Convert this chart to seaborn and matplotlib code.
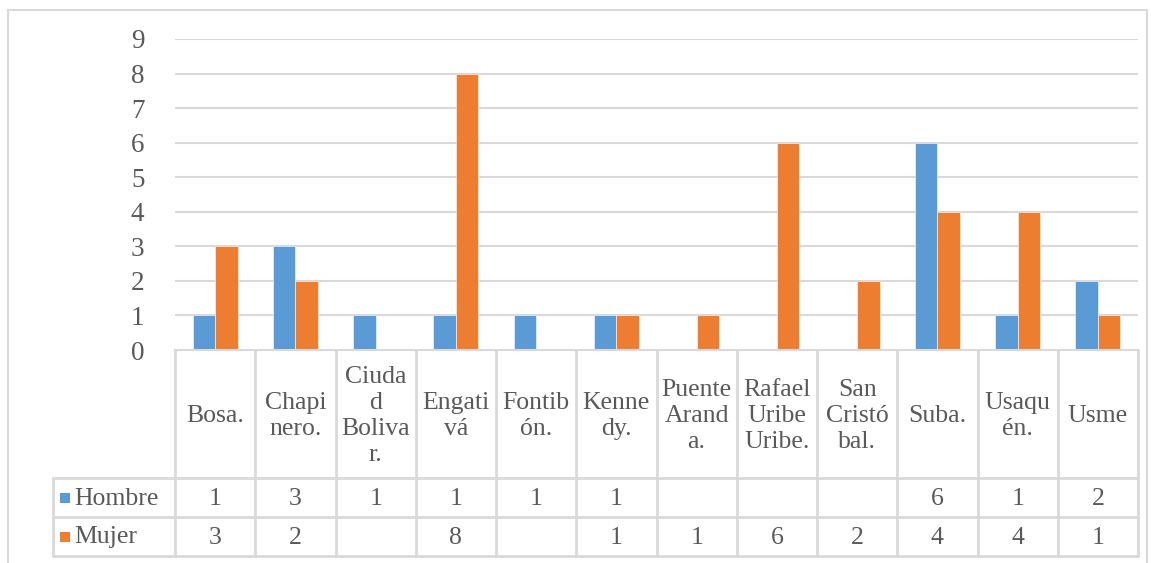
import numpy as np
import pandas as pd
import seaborn as sns
from matplotlib import pyplot as plt
from matplotlib.patches import Rectangle

sns.set_theme(style="white")
plt.rcParams['font.family'] = ['Liberation Serif', 'DejaVu Serif']

#################################################
#### data
#################################################
localidades = ["Bosa.", "Chapinero.", "Ciudad Bolivar.", "Engativá", "Fontibón.",
               "Kennedy.", "Puente Aranda.", "Rafael Uribe Uribe.", "San Cristóbal.",
               "Suba.", "Usaquén.", "Usme"]
# labels as they wrap inside the table header
etiquetas = ["Bosa.", "Chapi\nnero.", "Ciuda\nd\nBoliva\nr.", "Engati\nvá", "Fontib\nón.",
             "Kenne\ndy.", "Puente\nArand\na.", "Rafael\nUribe\nUribe.", "San\nCristó\nbal.",
             "Suba.", "Usaqu\nén.", "Usme"]
hombre = [1, 3, 1, 1, 1, 1, None, None, None, 6, 1, 2]
mujer = [3, 2, None, 8, None, 1, 1, 6, 2, 4, 4, 1]
series = ["Hombre", "Mujer"]
colores = ["#5B9BD5", "#ED7D31"]
yticks = list(range(0, 10))

rows = []
for loc, h, m in zip(localidades, hombre, mujer):
    rows.append({"Localidad": loc, "Sexo": "Hombre", "Valor": h})
    rows.append({"Localidad": loc, "Sexo": "Mujer", "Valor": m})
plot_data = pd.DataFrame(rows).dropna()

W, H = 1151, 563
fig = plt.figure(figsize=(W / 100, H / 100), dpi=100)
fig.patch.set_facecolor("white")

grid_c = "#D9D9D9"
txt_c = "#595959"
fs = 18.5

# outer frame
fig.add_artist(Rectangle((8 / W, -0.01), (1147 - 8) / W, (H - 10) / H + 0.01,
                         transform=fig.transFigure, fill=False, edgecolor=grid_c, lw=1.5))

# plot area
x0, x1, ytop, ybot = 175, 1138, 39, 350
ax = fig.add_axes([x0 / W, (H - ybot) / H, (x1 - x0) / W, (ybot - ytop) / H])
sns.barplot(data=plot_data, x="Localidad", y="Valor", hue="Sexo", order=localidades,
            hue_order=series, palette=colores, width=0.56, saturation=1, ax=ax,
            legend=False, edgecolor="white", linewidth=0.4)
ax.set_xlim(-0.5, len(localidades) - 0.5)
ax.set_ylim(0, 9)
ax.set_yticks(yticks)
ax.set_yticklabels([str(t) for t in yticks], fontsize=19.5, color=txt_c)
ax.tick_params(axis="y", length=0, pad=22)
ax.set_xticks([])
ax.set_xlabel("")
ax.set_ylabel("")
for t in yticks[1:]:
    ax.axhline(t, color=grid_c, lw=1.5, zorder=0)
for s in ["top", "right", "left"]:
    ax.spines[s].set_visible(False)
ax.spines["bottom"].set_color(grid_c)
ax.spines["bottom"].set_linewidth(1.5)
ax.patch.set_alpha(0)

# data table under the chart
tx0, tyb = 53, 556
colw = (x1 - x0) / len(localidades)
lab_w = (x0 - tx0) / colw
tab = fig.add_axes([tx0 / W, (H - tyb) / H, (x1 - tx0) / W, (tyb - ybot) / H])
tab.set_xlim(-0.5 - lab_w, len(localidades) - 0.5)
tab.set_ylim(tyb, ybot)
tab.axis("off")

row_y = [ybot, 478, 517, 556]
n = len(localidades)
for k in range(n + 1):
    tab.plot([k - 0.5, k - 0.5], [ybot, tyb], color=grid_c, lw=2, clip_on=False)
tab.plot([-0.5 - lab_w] * 2, [row_y[1], tyb], color=grid_c, lw=2, clip_on=False)
for yy in row_y[1:]:
    tab.plot([-0.5 - lab_w, n - 0.5], [yy, yy], color=grid_c, lw=2, clip_on=False)

for i, lab in enumerate(etiquetas):
    tab.text(i, (row_y[0] + row_y[1]) / 2 + 2, lab, ha="center", va="center",
             fontsize=fs, color=txt_c, linespacing=1.22)

for r, (nombre, vals, col) in enumerate(zip(series, [hombre, mujer], colores)):
    yc = (row_y[r + 1] + row_y[r + 2]) / 2
    for i, v in enumerate(vals):
        if v is not None:
            tab.text(i, yc + 1, str(v), ha="center", va="center", fontsize=fs, color=txt_c)
    tab.add_patch(Rectangle((-0.5 - lab_w + 7 / colw, yc - 5), 10 / colw, 10,
                            facecolor=col, edgecolor="none", clip_on=False))
    tab.text(-0.5 - lab_w + 21 / colw, yc + 1, nombre, ha="left", va="center",
             fontsize=fs, color=txt_c)

plt.savefig("out.png", dpi=100)
